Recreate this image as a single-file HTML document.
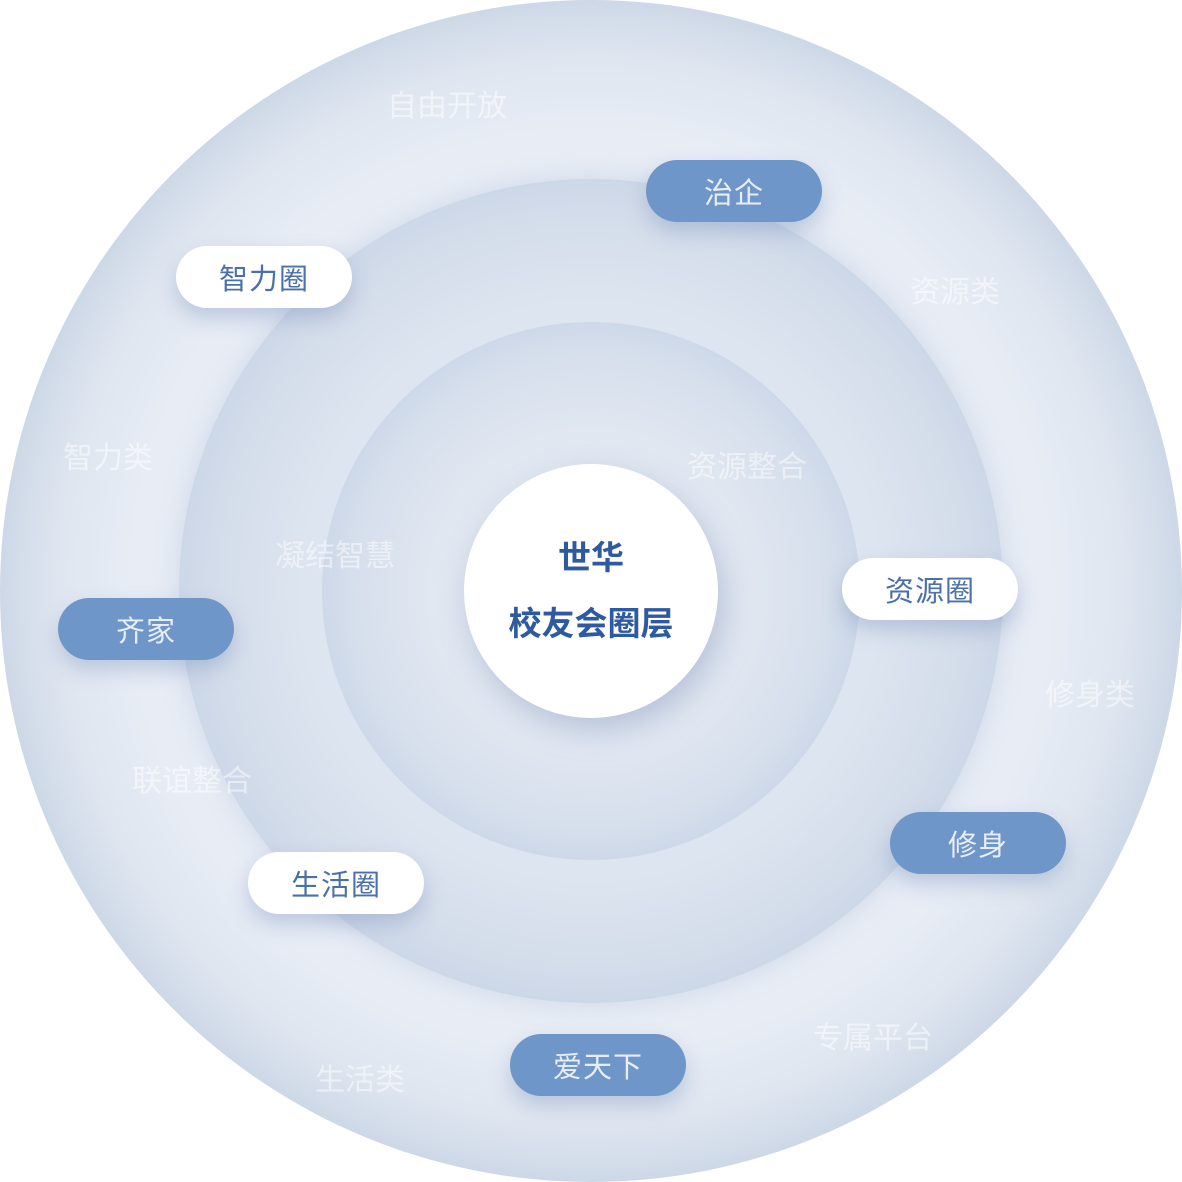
<!DOCTYPE html>
<html><head><meta charset="utf-8"><style>
html,body{margin:0;padding:0;background:#fff}
body{width:1182px;height:1182px;position:relative;overflow:hidden;font-family:"Liberation Sans","Noto Sans CJK SC",sans-serif}
.c{position:absolute;border-radius:50%}
.pill{position:absolute;width:176px;height:62px;border-radius:31px;display:flex;align-items:center;justify-content:center;font-size:29px;letter-spacing:1px;box-shadow:0 10px 20px rgba(110,135,180,0.35)}
.b{background:#6f96c9;color:#e8eef7}
.w{background:#fff;color:#4a70aa}
.f{position:absolute;color:rgba(255,255,255,0.5);font-size:30px;white-space:nowrap;transform:translate(-50%,-50%)}
</style></head><body>
<div class="c" style="left:0;top:0;width:1182px;height:1182px;background:radial-gradient(circle closest-side,#e9eef6 0%,#e7ecf5 78%,#dfe6f0 90%,#cdd8e7 100%)"></div>
<div class="c" style="left:179px;top:179px;width:824px;height:824px;background:radial-gradient(circle closest-side,#e1e8f2 0%,#dde5f0 70%,#d3dcea 92%,#ccd7e8 100%);box-shadow:0 0 24px rgba(160,180,210,0.35)"></div>
<div class="c" style="left:322px;top:322px;width:538px;height:538px;background:radial-gradient(circle closest-side,#e3e9f3 0%,#e0e7f1 60%,#d6dfec 88%,#cdd8e9 100%)"></div>
<div class="c" style="left:464px;top:464px;width:254px;height:254px;background:#fff;box-shadow:6px 12px 30px rgba(120,140,180,0.4);display:flex;flex-direction:column;align-items:center;justify-content:center;color:#2d5aa0;font-weight:bold;font-size:33px;line-height:66px"><div>世华</div><div>校友会圈层</div></div>

<div class="f" style="left:447px;top:103px">自由开放</div>
<div class="f" style="left:955px;top:289px">资源类</div>
<div class="f" style="left:108px;top:455px">智力类</div>
<div class="f" style="left:747px;top:464px">资源整合</div>
<div class="f" style="left:335px;top:553px">凝结智慧</div>
<div class="f" style="left:1090px;top:692px">修身类</div>
<div class="f" style="left:192px;top:778px">联谊整合</div>
<div class="f" style="left:873px;top:1035px">专属平台</div>
<div class="f" style="left:360px;top:1077px">生活类</div>

<div class="pill b" style="left:646px;top:160px">治企</div>
<div class="pill w" style="left:176px;top:246px">智力圈</div>
<div class="pill w" style="left:842px;top:558px">资源圈</div>
<div class="pill b" style="left:58px;top:598px">齐家</div>
<div class="pill b" style="left:890px;top:812px">修身</div>
<div class="pill w" style="left:248px;top:852px">生活圈</div>
<div class="pill b" style="left:510px;top:1034px">爱天下</div>
</body></html>
